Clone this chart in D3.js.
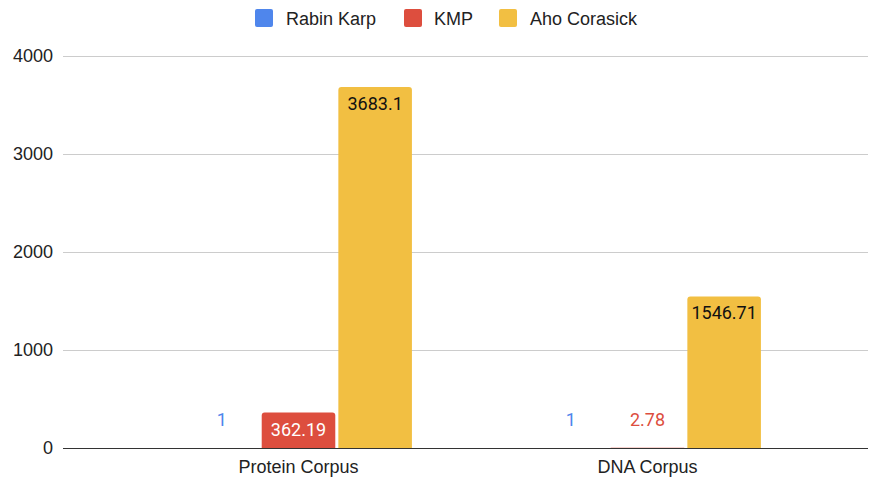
<!DOCTYPE html>
<html>
<head>
<meta charset="utf-8">
<script src="https://cdn.jsdelivr.net/npm/d3@7"></script>
<style>
  html, body { margin: 0; padding: 0; background: #fff; }
  svg { display: block; }
</style>
</head>
<body>
<svg id="chart" width="872" height="480"></svg>
<script>
// Chart data
const categories = ["Protein Corpus", "DNA Corpus"];
const seriesNames = ["Rabin Karp", "KMP", "Aho Corasick"];
const rabinKarp = [1, 1];
const kmp = [362.19, 2.78];
const ahoCorasick = [3683.1, 1546.71];
const yTicks = [0, 1000, 2000, 3000, 4000];
const seriesColors = ["#4f86ec", "#dd4e3e", "#f2bf42"];
const labelTextColors = ["#ffffff", "#ffffff", "#111111"];

const seriesValues = [rabinKarp, kmp, ahoCorasick];

const svg = d3.select("#chart");
const plotLeft = 63, plotRight = 868, plotTop = 56, plotBottom = 448;
const sans = "'Liberation Sans', Arial, sans-serif";

const y = d3.scaleLinear().domain([0, 4000]).range([plotBottom, plotTop]);

const x0 = d3.scaleBand()
  .domain(categories)
  .range([124, 822])
  .paddingInner(0.35)
  .paddingOuter(0.175);

const x1 = d3.scaleBand()
  .domain(seriesNames)
  .range([0, x0.bandwidth()])
  .paddingInner(0.04);

// Gridlines
svg.append("g").selectAll("line")
  .data(yTicks.filter(t => t !== 0))
  .join("line")
  .attr("x1", plotLeft).attr("x2", plotRight)
  .attr("y1", d => y(d)).attr("y2", d => y(d))
  .attr("stroke", "#cccccc").attr("stroke-width", 1)
  .attr("shape-rendering", "crispEdges");

// Y axis labels
const yAxis = d3.axisLeft(y).tickValues(yTicks).tickFormat(d3.format("d")).tickSize(0).tickPadding(0);
const yg = svg.append("g").attr("transform", `translate(53,0)`).call(yAxis);
yg.select(".domain").remove();
yg.selectAll("text")
  .attr("font-family", sans)
  .attr("font-size", 18)
  .attr("fill", "#222");

// Bars with slightly rounded top corners
function barPath(x, yTop, w, h, r) {
  r = Math.min(r, h / 2, w / 2);
  if (h <= 0) return "";
  return `M${x},${yTop + h}V${yTop + r}Q${x},${yTop} ${x + r},${yTop}` +
         `H${x + w - r}Q${x + w},${yTop} ${x + w},${yTop + r}V${yTop + h}Z`;
}

const flat = [];
categories.forEach((c, ci) => {
  seriesNames.forEach((s, si) => {
    flat.push({ cat: c, series: s, si, value: seriesValues[si][ci] });
  });
});

svg.append("g").selectAll("path")
  .data(flat)
  .join("path")
  .attr("d", d => {
    const bx = x0(d.cat) + x1(d.series);
    const top = y(d.value);
    return barPath(bx, top, x1.bandwidth(), plotBottom - top, 3);
  })
  .attr("fill", d => seriesColors[d.si]);

// Value labels: inside the bar when it is tall enough, otherwise above it
const fitsInside = d => (plotBottom - y(d.value)) > 26;
svg.append("g").selectAll("text")
  .data(flat)
  .join("text")
  .attr("x", d => x0(d.cat) + x1(d.series) + x1.bandwidth() / 2)
  .attr("y", d => fitsInside(d) ? y(d.value) + 23 : 426)
  .attr("text-anchor", "middle")
  .attr("font-family", "Roboto, 'Liberation Sans', sans-serif")
  .attr("font-size", 18)
  .attr("fill", d => fitsInside(d) ? labelTextColors[d.si] : seriesColors[d.si])
  .text(d => d.value);

// Baseline
svg.append("line")
  .attr("x1", plotLeft).attr("x2", plotRight)
  .attr("y1", y(0)).attr("y2", y(0))
  .attr("stroke", "#333").attr("stroke-width", 1)
  .attr("shape-rendering", "crispEdges");

// X axis labels
const xAxis = d3.axisBottom(x0).tickSize(0).tickPadding(0);
const xg = svg.append("g").attr("transform", `translate(0,473)`).call(xAxis);
xg.select(".domain").remove();
xg.selectAll("text")
  .attr("dy", 0)
  .attr("font-family", sans)
  .attr("font-size", 18)
  .attr("fill", "#222");

// Legend
const legendItems = [
  { name: seriesNames[0], sx: 255, tx: 286 },
  { name: seriesNames[1], sx: 404, tx: 434 },
  { name: seriesNames[2], sx: 499, tx: 530 }
];
const lg = svg.append("g");
legendItems.forEach((it, i) => {
  lg.append("rect")
    .attr("x", it.sx).attr("y", 9)
    .attr("width", 18).attr("height", 18)
    .attr("rx", 2)
    .attr("fill", seriesColors[i]);
  lg.append("text")
    .attr("x", it.tx).attr("y", 25)
    .attr("font-family", sans)
    .attr("font-size", 18)
    .attr("fill", "#222")
    .text(it.name);
});
</script>
</body>
</html>
